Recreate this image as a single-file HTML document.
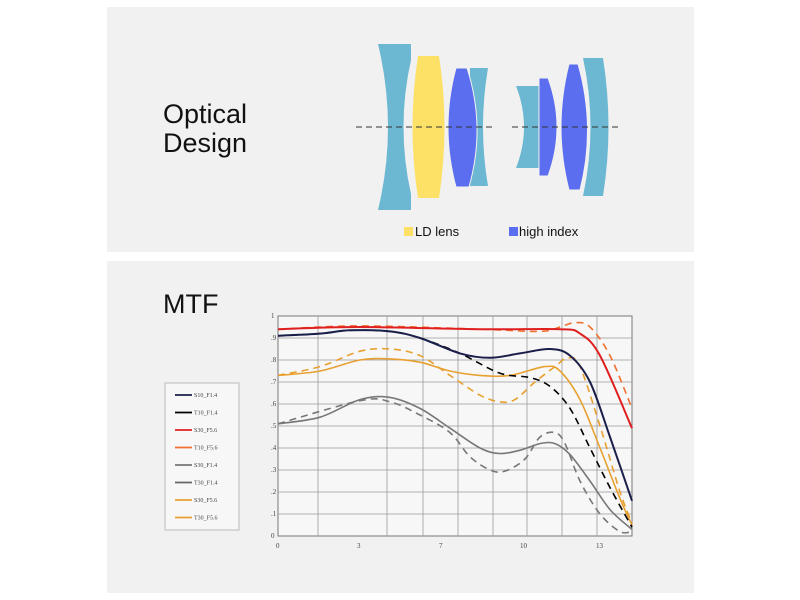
<!DOCTYPE html>
<html><head><meta charset="utf-8"><style>
html,body{margin:0;padding:0;background:#fff;width:800px;height:600px;overflow:hidden}
svg{display:block}
</style></head><body>
<svg id="s" width="800" height="600" xmlns="http://www.w3.org/2000/svg" font-family="Liberation Sans, sans-serif">
<rect x="107" y="7" width="587" height="245" fill="#f1f1f1"/>
<rect x="107" y="261" width="587" height="332" fill="#f1f1f1"/>
<text x="163" y="123" font-size="27" fill="#111">Optical</text>
<text x="163" y="152" font-size="27" fill="#111">Design</text>
<text x="163" y="313" font-size="27" fill="#111">MTF</text>
<!-- lenses -->
<path d="M378,44 L411,44 L411,60 Q396,127 411,194 L411,210 L378,210 Q398,127 378,44 Z" fill="#6cb8d2"/>
<path d="M418,56 L439,56 Q450,127 439,198 L418,198 Q407,127 418,56 Z" fill="#fde166"/>
<path d="M470,68 L488,68 Q478,127 488,186 L470,186 Z" fill="#6cb8d2"/>
<path d="M456,68 L467,68 Q486,127 469,187 L456,187 Q440,127 456,68 Z" fill="#5b6ef0" stroke="#f1f1f1" stroke-width="1"/>
<path d="M516,86 L539,86 L539,168 L516,168 Q532,127 516,86 Z" fill="#6cb8d2"/>
<path d="M539,78 L548,78 Q566,127 548,176 L539,176 Z" fill="#5b6ef0" stroke="#f1f1f1" stroke-width="1"/>
<path d="M583,58 L603,58 Q614,127 603,196 L583,196 Q598,127 583,58 Z" fill="#6cb8d2"/>
<path d="M569,64 L578,64 Q596,127 580,190 L569,190 Q553,127 569,64 Z" fill="#5b6ef0" stroke="#f1f1f1" stroke-width="1"/>
<line x1="356" y1="127" x2="494" y2="127" stroke="#333" stroke-dasharray="6,4"/>
<line x1="512" y1="127" x2="622" y2="127" stroke="#333" stroke-dasharray="6,4"/>
<rect x="404" y="227" width="9" height="9" fill="#fde166"/>
<text x="415" y="236" font-size="13" fill="#111">LD lens</text>
<rect x="509" y="227" width="9" height="9" fill="#5b6ef0"/>
<text x="519" y="236" font-size="13" fill="#111">high index</text>
<!-- chart -->
<rect x="278" y="316" width="354" height="220" fill="#f7f7f7" stroke="#777"/>
<g id="grid" stroke="#999" stroke-width="0.8"></g>
<g id="curves" fill="none"></g>
<g font-family="Liberation Serif, serif" font-size="7" fill="#444" id="labels"></g>
<rect x="165" y="383" width="74" height="147" fill="#f7f7f7" stroke="#bbb"/>
<g id="leg" font-family="Liberation Serif, serif" font-size="6" fill="#444"></g>
</svg>
<script>
var NS="http://www.w3.org/2000/svg";
function el(p,t,a,txt){var e=document.createElementNS(NS,t);for(var k in a)e.setAttribute(k,a[k]);if(txt!=null)e.textContent=txt;document.getElementById(p).appendChild(e);}
[318,387,423,458,493,527,562,597].forEach(function(x){el("grid","line",{x1:x,y1:316,x2:x,y2:536});});
for(var i=1;i<10;i++){var y=536-22*i;el("grid","line",{x1:278,y1:y,x2:632,y2:y});}
for(var i=0;i<=10;i++){el("labels","text",{x:271,y:538-22*i},i==10?"1":i==0?"0":"."+i);}
[[278,"0"],[359,"3"],[441,"7"],[522,"10"],[598,"13"]].forEach(function(a){el("labels","text",{x:a[0]-2,y:548},a[1]);});
function Y(v){return 536-220*v;}
function spline(pts){var p=pts.map(function(a){return [a[0],Y(a[1])];});var d="M"+p[0][0]+","+p[0][1];
for(var i=0;i<p.length-1;i++){var p0=p[i-1]||p[i],p1=p[i],p2=p[i+1],p3=p[i+2]||p2;
var c1=[p1[0]+(p2[0]-p0[0])/6,p1[1]+(p2[1]-p0[1])/6],c2=[p2[0]-(p3[0]-p1[0])/6,p2[1]-(p3[1]-p1[1])/6];
d+=" C"+c1[0].toFixed(1)+","+c1[1].toFixed(1)+" "+c2[0].toFixed(1)+","+c2[1].toFixed(1)+" "+p2[0]+","+p2[1];}return d;}
var S=[
["#e8a030",1.6,"7,5",[[278,.73],[320,.77],[360,.84],[390,.85],[420,.82],[450,.73],[480,.64],[500,.61],[515,.62],[535,.7],[555,.77],[568,.81],[580,.77],[600,.5],[620,.2],[632,.06]]],
["#e8a030",1.6,"",[[278,.73],[320,.75],[360,.8],[390,.805],[420,.79],[450,.75],[480,.73],[510,.73],[545,.77],[560,.75],[580,.62],[600,.4],[620,.17],[632,.05]]],
["#777",1.6,"7,5",[[278,.51],[360,.615],[390,.61],[420,.55],[450,.47],[470,.36],[490,.3],[505,.295],[525,.35],[540,.45],[555,.47],[565,.42],[580,.25],[600,.1],[620,.02],[632,.02]]],
["#777",1.6,"",[[278,.51],[320,.54],[360,.62],[390,.63],[420,.58],[450,.49],[480,.4],[500,.375],[520,.39],[540,.42],[555,.42],[570,.37],[590,.25],[610,.12],[632,.03]]],
["#000",1.6,"7,5",[[278,.91],[320,.92],[350,.935],[390,.93],[420,.9],[460,.83],[500,.74],[530,.72],[550,.68],[570,.58],[590,.4],[610,.22],[632,.04]]],
["#1a1f4a",2,"",[[278,.91],[320,.92],[350,.935],[390,.93],[420,.9],[460,.83],[490,.81],[520,.83],[550,.85],[570,.82],[590,.7],[610,.45],[632,.16]]],
["#f07030",1.6,"7,5",[[278,.94],[360,.955],[480,.94],[540,.93],[560,.95],[575,.97],[590,.95],[610,.82],[632,.58]]],
["#e02020",2,"",[[278,.94],[360,.95],[480,.94],[560,.94],[580,.92],[600,.82],[632,.49]]]];
S.forEach(function(s){var a={d:spline(s[3]),stroke:s[0],"stroke-width":s[1]};if(s[2])a["stroke-dasharray"]=s[2];el("curves","path",a);});
var L=[["#1a1f4a","S10_F1.4"],["#000","T10_F1.4"],["#e02020","S30_F5.6"],["#f07030","T10_F5.6"],["#777","S30_F1.4"],["#666","T30_F1.4"],["#e8a030","S30_F5.6"],["#e8a030","T30_F5.6"]];
L.forEach(function(l,i){var y=395+i*17.5;el("leg","line",{x1:175,y1:y,x2:192,y2:y,stroke:l[0],"stroke-width":1.8});el("leg","text",{x:194,y:y+2},l[1]);});
</script>
</body></html>
